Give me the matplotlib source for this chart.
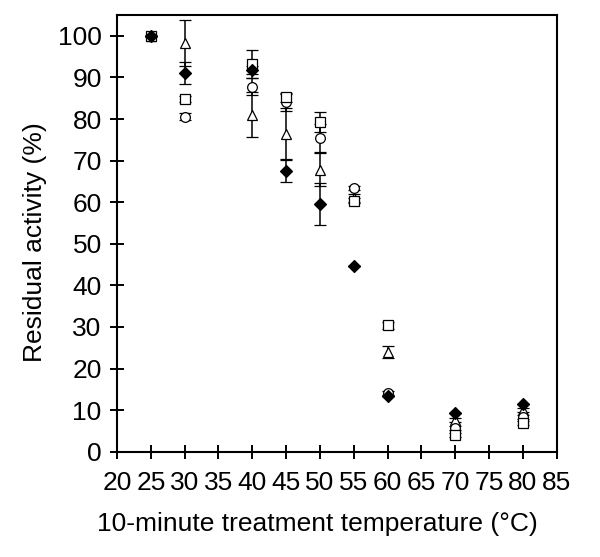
import matplotlib
matplotlib.use("Agg")
import matplotlib.pyplot as plt

plt.rcParams['font.family'] = ['Liberation Sans', 'DejaVu Sans']

# treatment temperatures (deg C)
temps = [25, 30, 40, 45, 50, 55, 60, 70, 80]

# residual activity (%) and error for each series
diamond_y = [100, 91.0, 91.8, 67.6, 59.6, 44.6, 13.5, 9.3, 11.5]
diamond_err = [0, 2.6, 1.0, 2.8, 5.0, 0, 0, 0, 0]
square_y = [100, 84.8, 93.2, 85.2, 79.2, 60.4, 30.4, 4.0, 7.0]
square_err = [0, 0.8, 3.4, 1.0, 2.4, 0.5, 0.8, 0.5, 0.5]
circle_y = [100, 80.6, 87.8, 84.0, 75.4, 63.4, 14.2, 5.8, 8.4]
circle_err = [0, 0.8, 2.0, 2.0, 3.4, 0.5, 0.5, 0.5, 0.5]
triangle_y = [100, 98.2, 81.0, 76.4, 67.8, 61.0, 24.0, 7.6, 10.0]
triangle_err = [0, 5.5, 5.4, 6.2, 4.0, 1.0, 1.4, 0.5, 0.5]

xticks = list(range(20, 90, 5))
yticks = list(range(0, 110, 10))

fig = plt.figure(figsize=(6.0, 5.57), dpi=100)
ax = fig.add_axes([0.195, 0.189, 0.733, 0.784])

series = [
    (triangle_y, triangle_err, '^', 'white', 7),
    (circle_y, circle_err, 'o', 'white', 7),
    (square_y, square_err, 's', 'white', 7),
    (diamond_y, diamond_err, 'D', 'black', 6),
]
for y, err, m, fc, ms in series:
    ax.errorbar(temps, y, yerr=err, fmt=m, mfc=fc, mec='black', ms=ms,
                mew=0.9, ecolor='black', elinewidth=1.1, capsize=4,
                capthick=1.1, color='black')

ax.set_xlim(20, 85)
ax.set_ylim(0, 105)
ax.set_xticks(xticks)
ax.set_yticks(yticks)
ax.tick_params(axis='both', direction='inout', length=10, width=1.4,
               labelsize=19, top=False, right=False)
ax.tick_params(axis='x', pad=9)
ax.tick_params(axis='y', pad=6)
for s in ax.spines.values():
    s.set_linewidth(1.5)

ax.set_xlabel('10-minute treatment temperature (\u00b0C)', fontsize=19)
ax.set_ylabel('Residual activity (%)', fontsize=19)
ax.xaxis.set_label_coords(0.455, -0.139)
ax.yaxis.set_label_coords(-0.16, 0.48)

fig.savefig('out.png', dpi=100)
